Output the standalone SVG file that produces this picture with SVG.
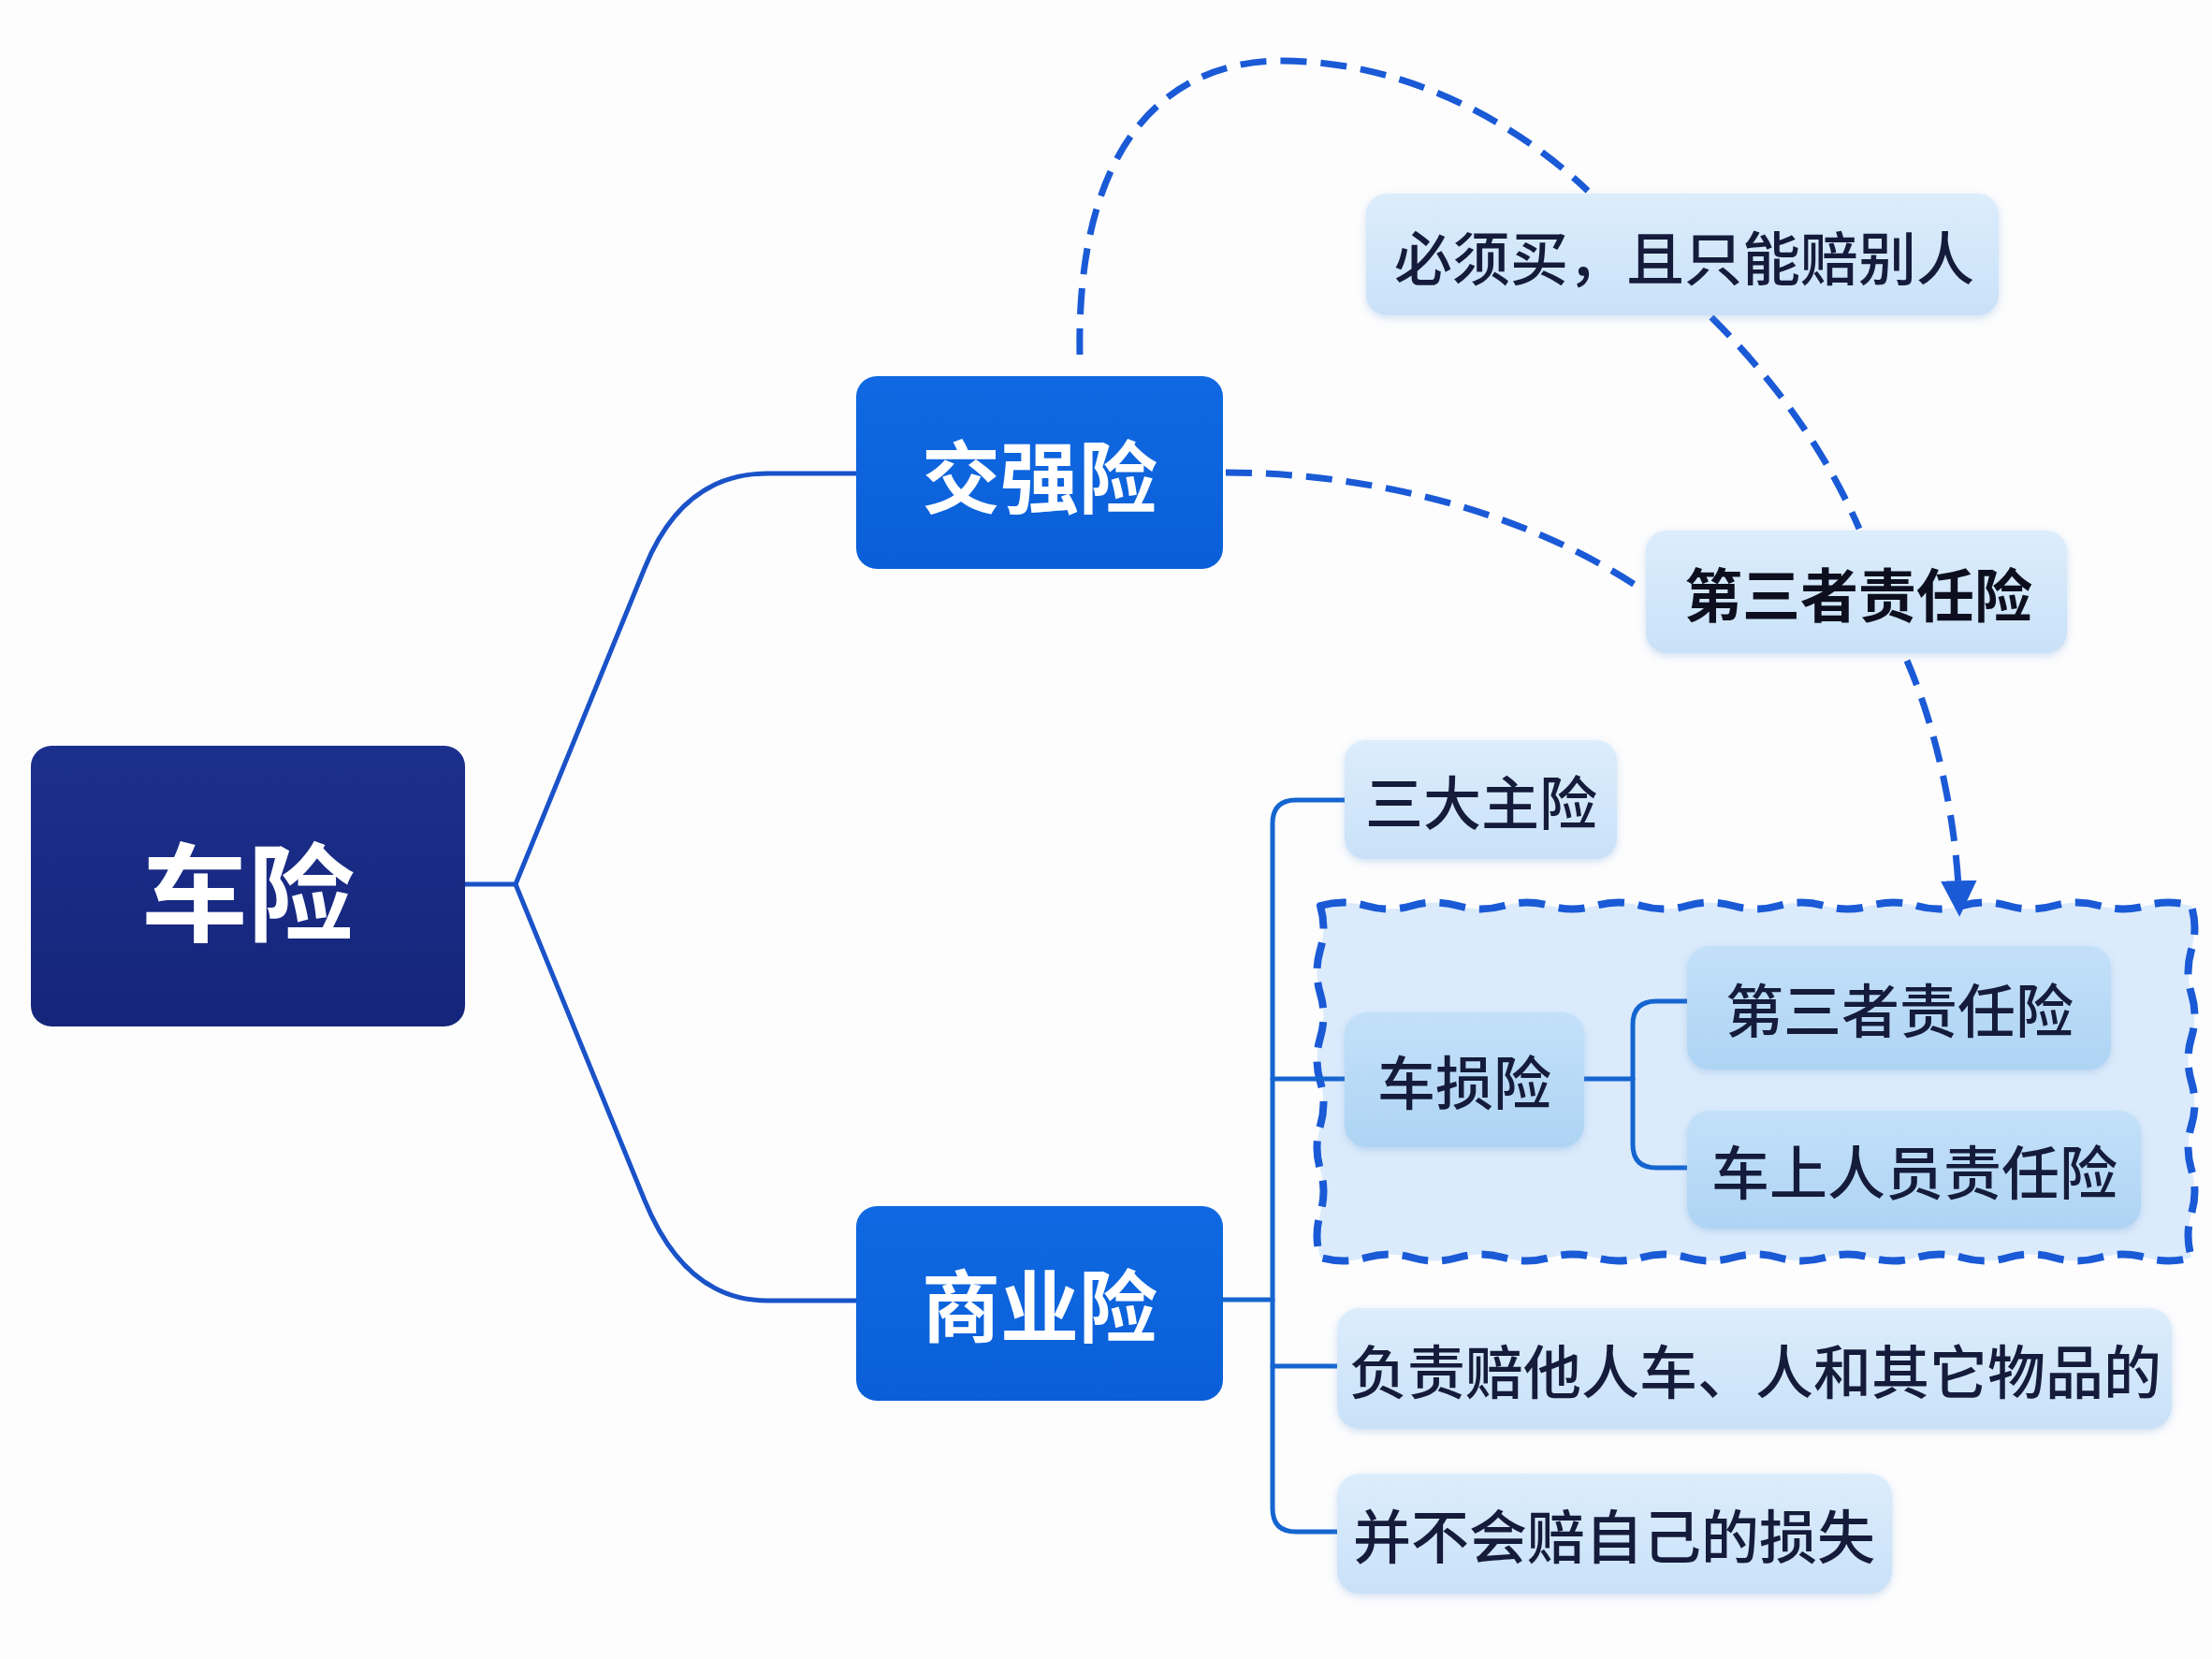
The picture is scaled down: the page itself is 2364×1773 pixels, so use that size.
<svg xmlns="http://www.w3.org/2000/svg" width="2364" height="1773" viewBox="0 0 2364 1773">
<defs>
<linearGradient id="gRoot" x1="0" y1="0" x2="0" y2="1"><stop offset="0" stop-color="#1b2f8c"/><stop offset="1" stop-color="#15257a"/></linearGradient>
<linearGradient id="gMain" x1="0" y1="0" x2="0" y2="1"><stop offset="0" stop-color="#1069e2"/><stop offset="1" stop-color="#0a5fd8"/></linearGradient>
<linearGradient id="gLight" x1="0" y1="0" x2="0" y2="1"><stop offset="0" stop-color="#dcedfc"/><stop offset="1" stop-color="#c9e1f8"/></linearGradient>
<linearGradient id="gInner" x1="0" y1="0" x2="0" y2="1"><stop offset="0" stop-color="#c3e0f9"/><stop offset="1" stop-color="#aed4f4"/></linearGradient>
<filter id="sh" x="-10%" y="-10%" width="120%" height="130%"><feDropShadow dx="0" dy="3" stdDeviation="4" flood-color="#6a9ad0" flood-opacity="0.3"/></filter>
<marker id="arr" viewBox="0 0 10 10" refX="8" refY="5" markerWidth="5.5" markerHeight="5.5" orient="auto" markerUnits="strokeWidth"><path d="M0,0 L10,5 L0,10 z" fill="#1a5ad6"/></marker>
<style>
.solid{fill:none;stroke:#1a52c8;stroke-width:5;stroke-linecap:round;stroke-linejoin:round}
.sub{fill:none;stroke:#1565d0;stroke-width:5;stroke-linecap:round;stroke-linejoin:round}
.dash{fill:none;stroke:#1a5ad6;stroke-width:7;stroke-dasharray:28 15}
.root{fill:url(#gRoot)}
.main{fill:url(#gMain)}
.light{fill:url(#gLight);filter:url(#sh)}
.inner{fill:url(#gInner);filter:url(#sh)}
text{font-family:"Noto Sans CJK SC","Noto Sans",sans-serif;text-anchor:middle;dominant-baseline:central}
.tw{fill:#ffffff;font-weight:700}
.tl{fill:#151b3a;font-weight:500;font-size:62px}
</style>
</defs>
<rect x="0" y="0" width="2364" height="1773" fill="#fdfdfe"/>

<g id="group-box">
<path d="M1411,968 q24.5,-7 49,0 t49,0 t49,0 t49,0 t49,0 t49,0 t49,0 t49,0 t49,0 t49,0 t49,0 t49,0 t49,0 t49,0 t49,0 t49,0 t49,0 t49,0 t49,0 q7,23.5 0,47 t0,47 t0,47 t0,47 t0,47 t0,47 t0,47 t0,47 q-24.5,7 -49,0 t-49,0 t-49,0 t-49,0 t-49,0 t-49,0 t-49,0 t-49,0 t-49,0 t-49,0 t-49,0 t-49,0 t-49,0 t-49,0 t-49,0 t-49,0 t-49,0 t-49,0 t-49,0 q-7,-23.5 0,-47 t0,-47 t0,-47 t0,-47 t0,-47 t0,-47 t0,-47 t0,-47 z" fill="#dbebfc" stroke="#1a5ad6" stroke-width="8" stroke-dasharray="28 15" stroke-linejoin="round"/>
</g>

<g id="connectors">
<path class="solid" d="M497,945 L551,945 L689,607 Q730,506 820,506 L915,506"/>
<path class="solid" d="M551,945 L689,1283 Q733,1390 820,1390 L915,1390"/>
<path class="sub" d="M1307,1389 L1360,1389"/>
<path class="sub" d="M1437,855 L1385,855 Q1360,855 1360,880 L1360,1612 Q1360,1637 1385,1637 L1429,1637"/>
<path class="sub" d="M1360,1153 L1437,1153"/>
<path class="sub" d="M1360,1460 L1429,1460"/>
<path class="sub" d="M1693,1153 L1745,1153"/>
<path class="sub" d="M1803,1070 L1770,1070 Q1745,1070 1745,1095 L1745,1223 Q1745,1248 1770,1248 L1803,1248"/>
<path class="dash" d="M1154,379 C1150,150 1250,65 1370,65 C1500,65 1620,130 1697,204"/>
<path class="dash" d="M1829,339 Q1935,445 1987,565"/>
<path class="dash" d="M1310,505 C1450,505 1620,540 1755,630"/>
<path class="dash" d="M2038,706 C2070,780 2092,880 2094,972" marker-end="url(#arr)"/>
</g>

<g id="node-root">
<rect class="root" x="33" y="797" width="464" height="300" rx="22"/>
<text class="tw" x="265" y="947" font-size="114">车险</text>
</g>
<g id="node-jqx">
<rect class="main" x="915" y="402" width="392" height="206" rx="22"/>
<text class="tw" x="1111" y="505" font-size="84">交强险</text>
</g>
<g id="node-syx">
<rect class="main" x="915" y="1289" width="392" height="208" rx="22"/>
<text class="tw" x="1111" y="1391" font-size="84">商业险</text>
</g>
<g id="node-must">
<rect class="light" x="1460" y="207" width="676" height="130" rx="22"/>
<text class="tl" x="1800" y="273">必须买，且只能赔别人</text>
</g>
<g id="node-third-top">
<rect class="light" x="1759" y="567" width="450" height="131" rx="22"/>
<text class="tl" x="1986" y="633" font-size="68" style="font-weight:600;fill:#0d0f1e">第三者责任险</text>
</g>
<g id="node-three">
<rect class="light" x="1437" y="791" width="291" height="127" rx="22"/>
<text class="tl" x="1583" y="855">三大主险</text>
</g>
<g id="node-csx">
<rect class="inner" x="1437" y="1082" width="256" height="144" rx="24"/>
<text class="tl" x="1565" y="1154" font-size="66">车损险</text>
</g>
<g id="node-third-inner">
<rect class="inner" x="1803" y="1011" width="453" height="132" rx="24"/>
<text class="tl" x="2030" y="1077" font-size="66">第三者责任险</text>
</g>
<g id="node-passenger">
<rect class="inner" x="1803" y="1187" width="485" height="126" rx="24"/>
<text class="tl" x="2046" y="1250" font-size="64">车上人员责任险</text>
</g>
<g id="node-pay-others">
<rect class="light" x="1429" y="1398" width="892" height="129" rx="24"/>
<text class="tl" x="1876" y="1463" font-size="64">负责赔他人车、人和其它物品的</text>
</g>
<g id="node-not-self">
<rect class="light" x="1429" y="1575" width="593" height="128" rx="24"/>
<text class="tl" x="1725" y="1639">并不会赔自己的损失</text>
</g>
</svg>
